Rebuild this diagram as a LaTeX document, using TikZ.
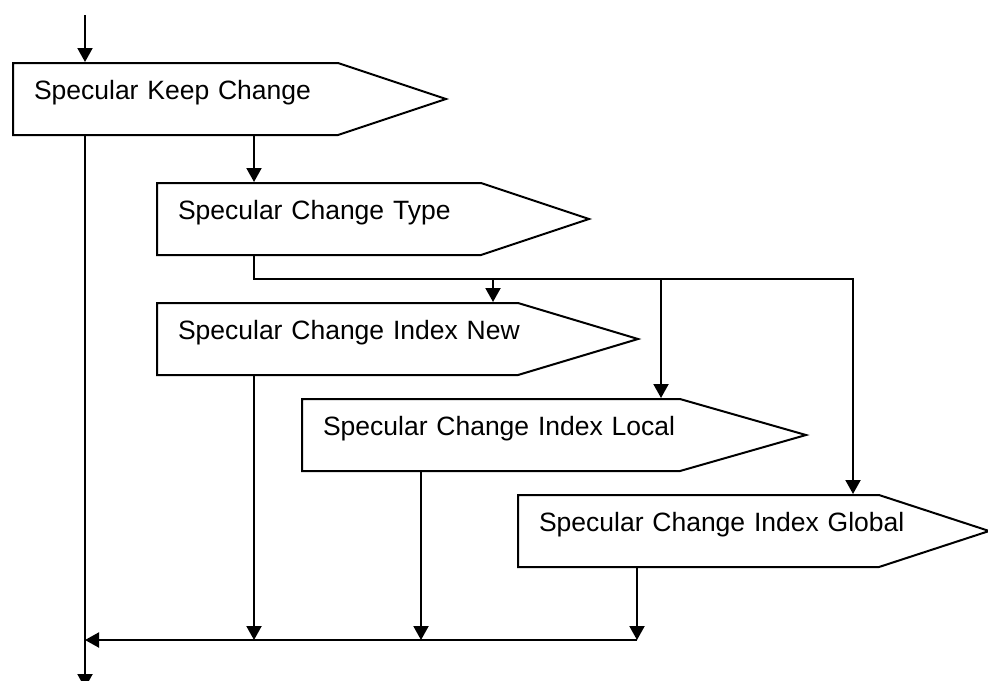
\documentclass[tikz,border=0pt]{standalone}
\usepackage{fontspec}
\setmainfont{Liberation Sans}
\usetikzlibrary{shapes.symbols, arrows.meta}
\tikzset{
  bloque/.style={signal, signal to=east, signal from=nowhere, draw=black, line width=1pt,
                 fill=white, minimum height=36pt, inner xsep=10.5pt, inner ysep=0pt,
                 anchor=west, align=left, text height=8pt, text depth=8pt,
                 font=\fontsize{13.25}{16}\selectfont},
  arrow/.style={line width=1pt, -{Triangle[length=7pt, width=7.5pt]}},
  linea/.style={line width=1pt}
}

\begin{document}
\begin{tikzpicture}[x=0.5pt, y=-0.5pt]
  \useasboundingbox (0,0) rectangle (988,680);
  % bloques
  \node (b1) [bloque, text width=141.5pt, signal pointer angle=36.87] at (12,99) {\mbox{Specular Keep Change}};
  \node (b2) [bloque, text width=141pt, signal pointer angle=36.87] at (156,219) {\mbox{Specular Change Type}};
  \node (b3) [bloque, text width=159.5pt, signal pointer angle=33.4] at (156,339) {\mbox{Specular Change Index New}};
  \node (b4) [bloque, text width=168pt, signal pointer angle=31.9] at (301,435) {\mbox{Specular Change Index Local}};
  \node (b5) [bloque, text width=159.5pt, signal pointer angle=36.2] at (517,531) {\mbox{Specular Change Index Global}};
  % puntos de paso
  \coordinate (entrada) at (85,15);
  \coordinate (salida) at (85,688);
  \coordinate (bus) at (254,279);
  \coordinate (c3) at (493,279);
  \coordinate (c4) at (661,279);
  \coordinate (c5) at (853,279);
  \coordinate (m3) at (254,640);
  \coordinate (m4) at (421,640);
  \coordinate (m5) at (637,640);
  % conectores
  \draw [arrow] (entrada) -- (entrada |- b1.north);
  \draw [arrow] (entrada |- b1.south) -- (salida);
  \draw [arrow] (bus |- b1.south) -- (bus |- b2.north);
  \draw [arrow] (bus |- b2.south) -- (bus) -- (c5) -- (c5 |- b5.north);
  \draw [arrow] (c3) -- (c3 |- b3.north);
  \draw [arrow] (c4) -- (c4 |- b4.north);
  \draw [arrow] (m3 |- b3.south) -- (m3);
  \draw [arrow] (m4 |- b4.south) -- (m4);
  \draw [arrow] (m5 |- b5.south) -- (m5);
  \draw [arrow] (m5) -- (entrada |- m5);
\end{tikzpicture}
\end{document}
